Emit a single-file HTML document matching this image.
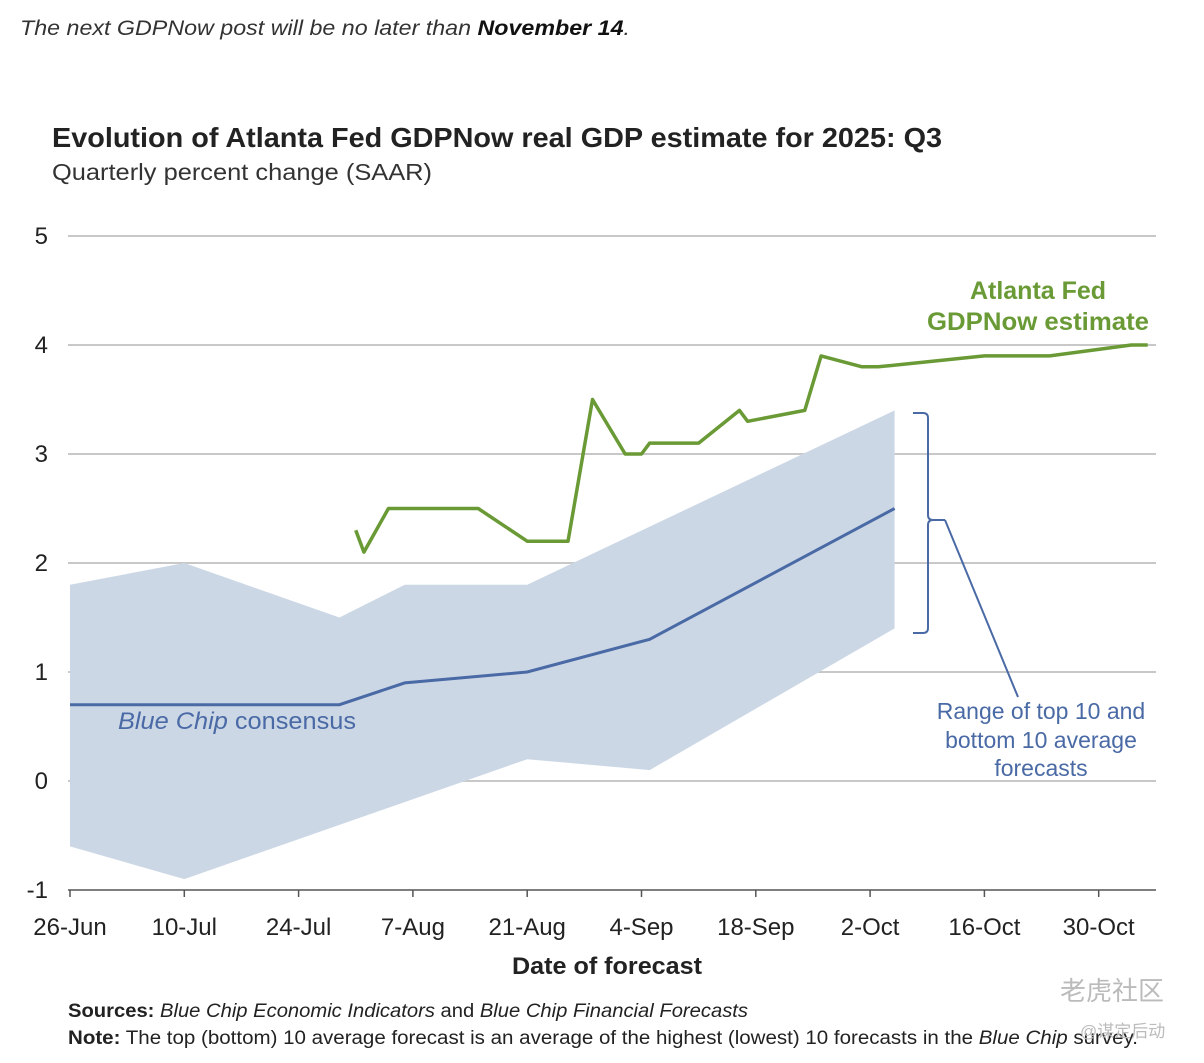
<!DOCTYPE html>
<html><head><meta charset="utf-8"><style>
body{margin:0;width:1204px;height:1058px;background:#fff;overflow:hidden;font-family:"Liberation Sans","Noto Sans CJK SC",sans-serif;}
svg text{font-family:"Liberation Sans","Noto Sans CJK SC",sans-serif;}
</style></head><body>
<svg width="1204" height="1058">
<text x="20" y="35" font-size="21" font-style="italic" fill="#333" textLength="610" lengthAdjust="spacingAndGlyphs">The next GDPNow post will be no later than <tspan font-weight="bold" fill="#111">November 14</tspan>.</text>
<text x="52" y="147" font-size="28" font-weight="bold" fill="#222" textLength="890" lengthAdjust="spacingAndGlyphs">Evolution of Atlanta Fed GDPNow real GDP estimate for 2025: Q3</text>
<text x="52" y="180" font-size="23" fill="#333" textLength="380" lengthAdjust="spacingAndGlyphs">Quarterly percent change (SAAR)</text>
<g id="grid"></g><g id="band"></g><g id="lines"></g><g id="axes"></g>
<text x="1038" y="299" font-size="25" font-weight="bold" fill="#6a9a35" text-anchor="middle">Atlanta Fed</text>
<text x="1038" y="330" font-size="25" font-weight="bold" fill="#6a9a35" text-anchor="middle" textLength="222" lengthAdjust="spacingAndGlyphs">GDPNow estimate</text>
<text x="118" y="729" font-size="24" fill="#4a6aa5" textLength="238" lengthAdjust="spacingAndGlyphs"><tspan font-style="italic">Blue Chip</tspan> consensus</text>
<path d="M913,413 h10 q5,0 5,5 v97 q0,5 5,5 h12 M933,520 q-5,0 -5,5 v103 q0,5 -5,5 h-10" fill="none" stroke="#4a6aa5" stroke-width="2"/>
<line x1="945" y1="520" x2="1018" y2="697" stroke="#4a6aa5" stroke-width="2"/>
<g font-size="23" fill="#4a6aa5" text-anchor="middle">
<text x="1041" y="719">Range of top 10 and</text><text x="1041" y="748">bottom 10 average</text><text x="1041" y="776">forecasts</text></g>
<text x="607" y="974" font-size="24" font-weight="bold" fill="#222" text-anchor="middle" textLength="190" lengthAdjust="spacingAndGlyphs">Date of forecast</text>
<text x="68" y="1017" font-size="19" fill="#222" textLength="680" lengthAdjust="spacingAndGlyphs"><tspan font-weight="bold">Sources:</tspan> <tspan font-style="italic">Blue Chip Economic Indicators</tspan> and <tspan font-style="italic">Blue Chip Financial Forecasts</tspan></text>
<text x="68" y="1044" font-size="19" fill="#222" textLength="1070" lengthAdjust="spacingAndGlyphs"><tspan font-weight="bold">Note:</tspan> The top (bottom) 10 average forecast is an average of the highest (lowest) 10 forecasts in the <tspan font-style="italic">Blue Chip</tspan> survey.</text>
<text x="1060" y="1000" font-size="26" fill="#bbb">老虎社区</text>
<text x="1080" y="1037" font-size="17" fill="#bbb">@谋定后动</text>
</svg>
<script>
const yTicks=[5,4,3,2,1,0,-1];
const xLabels=["26-Jun","10-Jul","24-Jul","7-Aug","21-Aug","4-Sep","18-Sep","2-Oct","16-Oct","30-Oct"];
const gdpDays=[35,36,39,50,56,61,64,68,70,71,77,82,83,90,92,97,99,112,120,130,132];
const gdpVals=[2.3,2.1,2.5,2.5,2.2,2.2,3.5,3.0,3.0,3.1,3.1,3.4,3.3,3.4,3.9,3.8,3.8,3.9,3.9,4.0,4.0];
const bcDays=[0,33,41,56,71,101];
const bcVals=[0.7,0.7,0.9,1.0,1.3,2.5];
const topDays=[0,14,33,41,56,101];
const topVals=[1.8,2.0,1.5,1.8,1.8,3.4];
const botDays=[0,14,56,71,101];
const botVals=[-0.6,-0.9,0.2,0.1,1.4];
const X=d=>70+d*114.3/14, Y=v=>781-v*109;
const NS="http://www.w3.org/2000/svg";
function mk(t,a,p){const e=document.createElementNS(NS,t);for(const k in a)e.setAttribute(k,a[k]);document.getElementById(p).appendChild(e);return e;}
yTicks.forEach(v=>{
 const l=mk('line',{x1:68,x2:1156,y1:Y(v),y2:Y(v),stroke:v===-1?'#555':'#c8c8c8','stroke-width':v===-1?1.5:2},'grid');
 
 
 const t=mk('text',{x:48,y:Y(v)+8,'font-size':24,fill:'#222','text-anchor':'end'},'axes');t.textContent=v;
 
 
});
xLabels.forEach((s,i)=>{
 const x=X(i*14);
 const tk=mk('line',{x1:x,x2:x,y1:890,y2:897,stroke:'#555','stroke-width':1.5},'axes');
 
 
 const t=mk('text',{x:x,y:935,'font-size':24,fill:'#222','text-anchor':'middle'},'axes');t.textContent=s;
 
 
});
const pts=(ds,vs)=>ds.map((d,i)=>X(d)+','+Y(vs[i]));
const bandPts=pts(topDays,topVals).concat(pts(botDays,botVals).reverse());
const band=mk('polygon',{points:bandPts.join(' '),fill:'#ccd7e6'},'band');


const bc=mk('polyline',{points:pts(bcDays,bcVals).join(' '),fill:'none',stroke:'#4a6aa5','stroke-width':3},'lines');


const g=mk('polyline',{points:pts(gdpDays,gdpVals).join(' '),fill:'none',stroke:'#6a9a35','stroke-width':3.5,'stroke-linejoin':'round'},'lines');


</script>
</body></html>
